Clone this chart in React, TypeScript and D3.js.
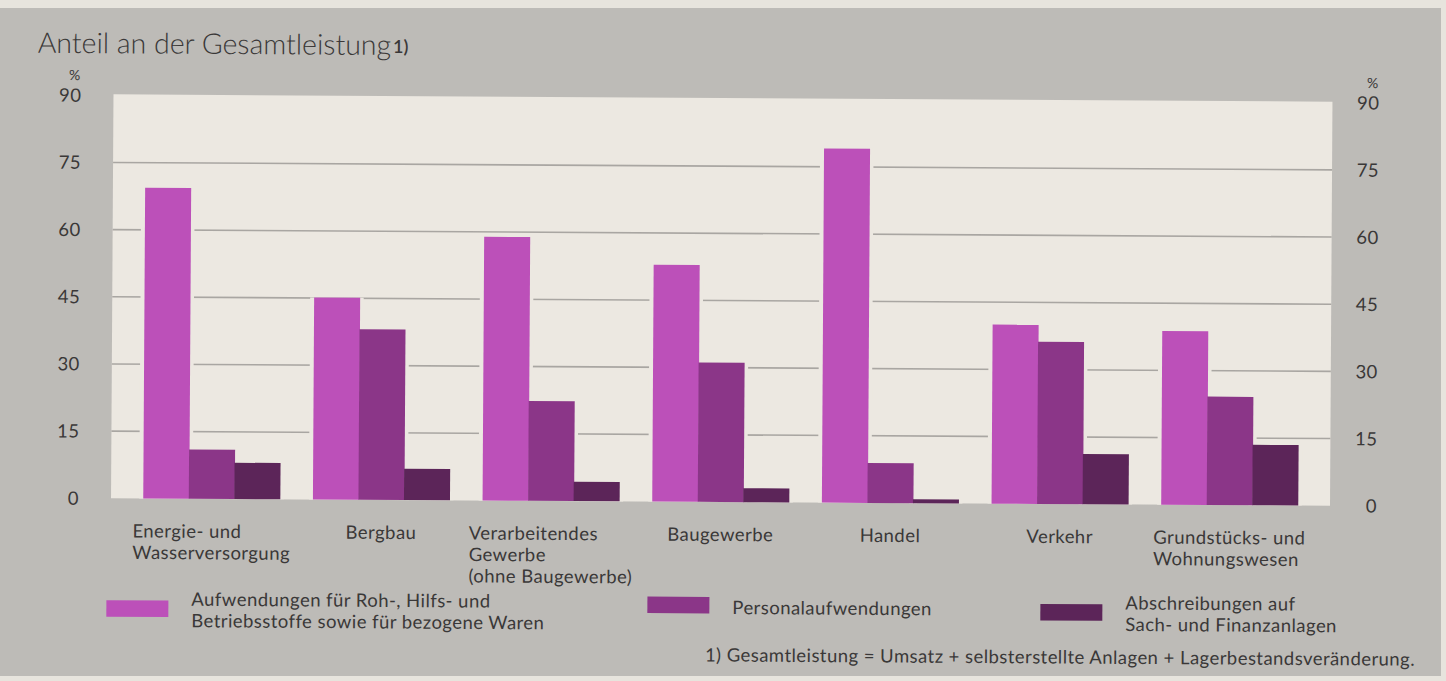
import React, { useEffect, useRef } from 'react';
import * as d3 from 'd3';

// Branches, each split into the lines printed under its bar group
const categories: string[][] = [
  ['Energie- und', 'Wasserversorgung'],
  ['Bergbau'],
  ['Verarbeitendes', 'Gewerbe', '(ohne Baugewerbe)'],
  ['Baugewerbe'],
  ['Handel'],
  ['Verkehr'],
  ['Grundstücks- und', 'Wohnungswesen'],
];

// Share of total output in %
const materialCosts = [69.4, 45.1, 58.9, 52.9, 79.1, 40.0, 38.8];
const personnelCosts = [11.0, 38.1, 22.3, 31.1, 8.9, 36.2, 24.2];
const depreciation = [8.1, 7.0, 4.3, 3.1, 0.9, 11.2, 13.5];

const seriesLabels: string[][] = [
  ['Aufwendungen für Roh-, Hilfs- und', 'Betriebsstoffe sowie für bezogene Waren'],
  ['Personalaufwendungen'],
  ['Abschreibungen auf', 'Sach- und Finanzanlagen'],
];
const seriesColors = ['#bc50b9', '#8b3688', '#5c2559'];

const yTicks = [0, 15, 30, 45, 60, 75, 90];
const gridTicks = [15, 30, 45, 60, 75];

const title = 'Anteil an der Gesamtleistung';
const footnote = '1) Gesamtleistung = Umsatz + selbsterstellte Anlagen + Lagerbestandsveränderung.';

const W = 1446;
const H = 681;
const FONT = 'Lato, "Open Sans", sans-serif';
const TEXT = '#3a3838';

export default function App() {
  const svgRef = useRef<SVGSVGElement>(null);

  useEffect(() => {
    if (!svgRef.current) return;
    const svg = d3.select(svgRef.current);
    svg.selectAll('*').remove();

    // paper + grey panel
    svg.append('rect').attr('width', W).attr('height', H).attr('fill', '#e7e4dd');
    svg.append('rect').attr('x', 0).attr('y', 8).attr('width', 1441).attr('height', 668).attr('fill', '#bdbbb7');

    // the scan is very slightly tilted
    const g = svg.append('g').attr('transform', 'rotate(0.35 723 340)');

    const plot = { left: 112, right: 1331, top: 98, bottom: 502 };
    const series = [materialCosts, personnelCosts, depreciation];

    const x = d3.scaleBand<number>()
      .domain(d3.range(categories.length))
      .range([plot.left, plot.right])
      .paddingInner(0.195)
      .paddingOuter(0.19);
    const xs = d3.scaleBand<number>()
      .domain(d3.range(series.length))
      .range([0, x.bandwidth()]);
    const y = d3.scaleLinear().domain([0, 90]).range([plot.bottom, 99]);

    const label = (sel: any, size = 18.5) => sel
      .style('font-family', FONT)
      .style('font-size', `${size}px`)
      .style('letter-spacing', '0.45px')
      .style('fill', TEXT);

    g.append('rect')
      .attr('x', plot.left).attr('y', plot.top)
      .attr('width', plot.right - plot.left).attr('height', plot.bottom - plot.top)
      .attr('fill', '#ece8e1');

    g.selectAll('.grid')
      .data(gridTicks)
      .enter().append('line')
      .attr('x1', plot.left).attr('x2', plot.right)
      .attr('y1', d => y(d)).attr('y2', d => y(d))
      .attr('stroke', '#a9a6a2')
      .attr('stroke-width', 1.6);

    const cells = categories.flatMap((_, i) => series.map((vals, s) => ({ i, s, v: vals[i] })));

    // paper-coloured gap where grid lines meet a bar
    g.selectAll('.halo')
      .data(cells)
      .enter().append('rect')
      .attr('x', d => x(d.i)! + xs(d.s)! - 4)
      .attr('y', d => y(d.v))
      .attr('width', xs.bandwidth() + 8)
      .attr('height', d => plot.bottom - y(d.v))
      .attr('fill', '#ece8e1');

    g.selectAll('.bar')
      .data(cells)
      .enter().append('rect')
      .attr('x', d => x(d.i)! + xs(d.s)!)
      .attr('y', d => y(d.v))
      .attr('width', xs.bandwidth() + 0.5)
      .attr('height', d => plot.bottom - y(d.v))
      .attr('fill', d => seriesColors[d.s]);

    // y labels, both sides
    [80, 1378].forEach(ax => {
      g.selectAll(null)
        .data(yTicks)
        .enter().append('text')
        .attr('x', ax)
        .attr('y', d => y(d))
        .attr('dy', '0.36em')
        .attr('text-anchor', 'end')
        .call(label, 18.5)
        .text(d => d);
      g.append('text')
        .attr('x', ax - 1).attr('y', 84)
        .attr('text-anchor', 'end')
        .call(label, 14)
        .text('%');
    });

    // title
    const t = g.append('text')
      .attr('x', 36).attr('y', 57)
      .style('font-family', FONT)
      .style('font-size', '28.5px')
      .style('font-weight', 300)
      .style('fill', TEXT);
    t.append('tspan').text(title);
    t.append('tspan').attr('dx', 2).attr('dy', -2).style('font-size', '18px').style('font-weight', 600).text('1)');

    // category labels, block centred under its group, lines left aligned
    categories.forEach((lines, i) => {
      const txt = g.append('text').call(label);
      const spans = lines.map((l, k) => txt.append('tspan').attr('y', 541 + k * 21.5).text(l));
      const widest = d3.max(spans, s => (s.node() as SVGTSpanElement).getComputedTextLength()) || 0;
      const cx = x(i)! + x.bandwidth() / 2;
      spans.forEach(s => s.attr('x', cx - widest / 2));
    });

    // legend
    const legendX = [108, 649, 1042];
    const legendY = [604, 597, 602];
    seriesLabels.forEach((lines, s) => {
      g.append('rect')
        .attr('x', legendX[s]).attr('y', legendY[s])
        .attr('width', 62).attr('height', 16.5)
        .attr('fill', seriesColors[s]);
      const txt = g.append('text').call(label);
      const first = lines.length > 1 ? legendY[s] + 5 : legendY[s] + 17;
      lines.forEach((l, k) => {
        txt.append('tspan').attr('x', legendX[s] + 85).attr('y', first + k * 21.5).text(l);
      });
    });

    g.append('text')
      .attr('x', 1417).attr('y', 661.5)
      .attr('text-anchor', 'end')
      .call(label)
      .text(footnote);
  }, []);

  return (
    <svg ref={svgRef} width={W} height={H} style={{ position: 'absolute', left: 0, top: 0, display: 'block' }} />
  );
}
